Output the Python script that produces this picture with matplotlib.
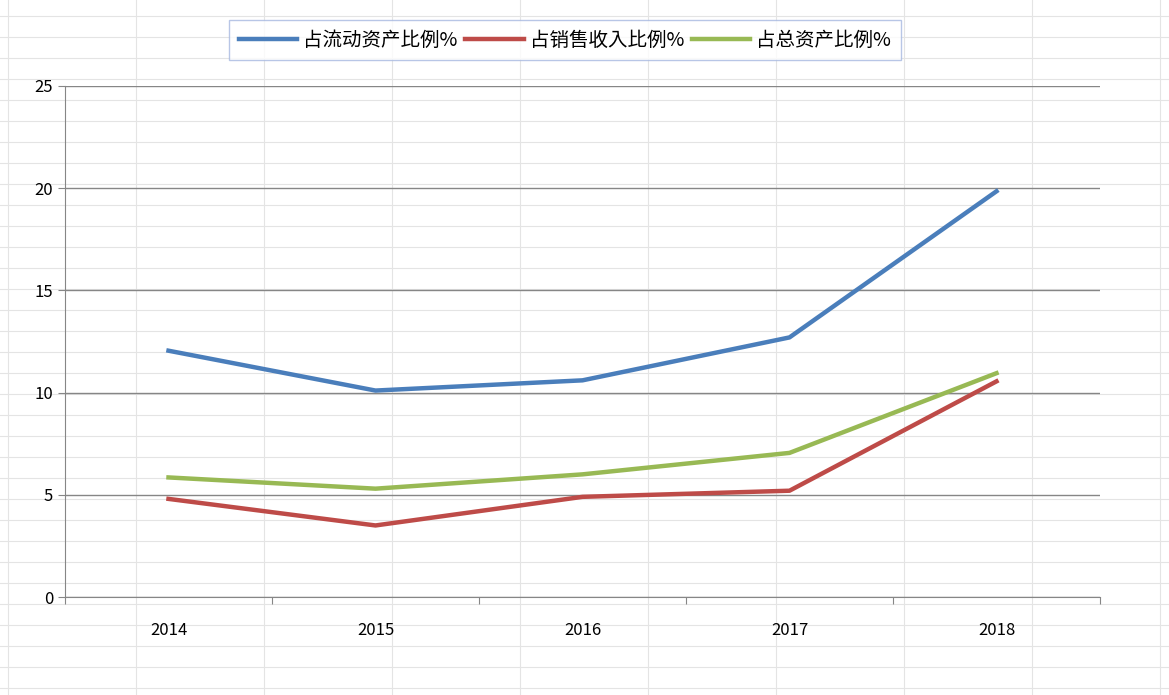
import matplotlib
matplotlib.use("Agg")
import matplotlib.pyplot as plt
from matplotlib import font_manager

names = {f.name for f in font_manager.fontManager.ttflist}
cjk = [n for n in ["Noto Sans CJK SC", "Noto Sans CJK JP", "Noto Sans CJK TC", "Noto Sans CJK KR"] if n in names]
plt.rcParams['font.family'] = cjk + ['DejaVu Sans']
plt.rcParams['font.sans-serif'] = cjk + ['DejaVu Sans']

years = ["2014", "2015", "2016", "2017", "2018"]
current_assets = [12.05, 10.1, 10.6, 12.7, 19.85]
sales_revenue = [4.8, 3.5, 4.9, 5.2, 10.55]
total_assets = [5.85, 5.3, 6.0, 7.05, 10.95]

W, H = 1169, 695
fig = plt.figure(figsize=(W/100, H/100), dpi=100)
fig.patch.set_facecolor('white')

bg = fig.add_axes([0, 0, 1, 1], zorder=-1)
bg.set_xlim(0, W); bg.set_ylim(H, 0); bg.axis('off')
for xv in range(8, W, 128):
    bg.axvline(xv, color='#e4e4e4', lw=0.8)
for yv in range(16, H, 21):
    bg.axhline(yv, color='#e4e4e4', lw=0.8)

ax = fig.add_axes([65/W, (H-597)/H, (1100-65)/W, (597-86)/H])
ax.set_facecolor('none')
x = range(len(years))
ax.plot(x, current_assets, color='#4a7ebb', lw=3.2, label='占流动资产比例%')
ax.plot(x, sales_revenue, color='#be4b48', lw=3.2, label='占销售收入比例%')
ax.plot(x, total_assets, color='#98b954', lw=3.2, label='占总资产比例%')

ax.set_xlim(-0.5, 4.5)
ax.set_ylim(0, 25)
ax.set_yticks([0, 5, 10, 15, 20, 25])
ax.yaxis.grid(True, color='#868686', lw=1)
ax.set_axisbelow(True)
ax.set_xticks([i - 0.5 for i in range(6)])
ax.set_xticklabels([])
ax.set_xticks(list(x), minor=True)
ax.set_xticklabels(years, minor=True)
ax.tick_params(axis='x', which='major', length=5, color='#868686', direction='out')
ax.tick_params(axis='x', which='minor', length=0, pad=18, labelsize=12)
ax.tick_params(axis='y', length=5, color='#868686', labelsize=12)
for s in ['top', 'right']:
    ax.spines[s].set_visible(False)
ax.spines['left'].set_color('#868686')
ax.spines['bottom'].set_color('#868686')

leg = fig.legend(loc='center', bbox_to_anchor=(565/W, 1-40/H), ncol=3, frameon=True,
                 fontsize=14, handlelength=3.0, columnspacing=0.4, handletextpad=0.3,
                 fancybox=False, borderpad=0.5)
leg.get_frame().set_edgecolor('#a6b8e0')
leg.get_frame().set_linewidth(1)

fig.savefig('out.png', dpi=100)
